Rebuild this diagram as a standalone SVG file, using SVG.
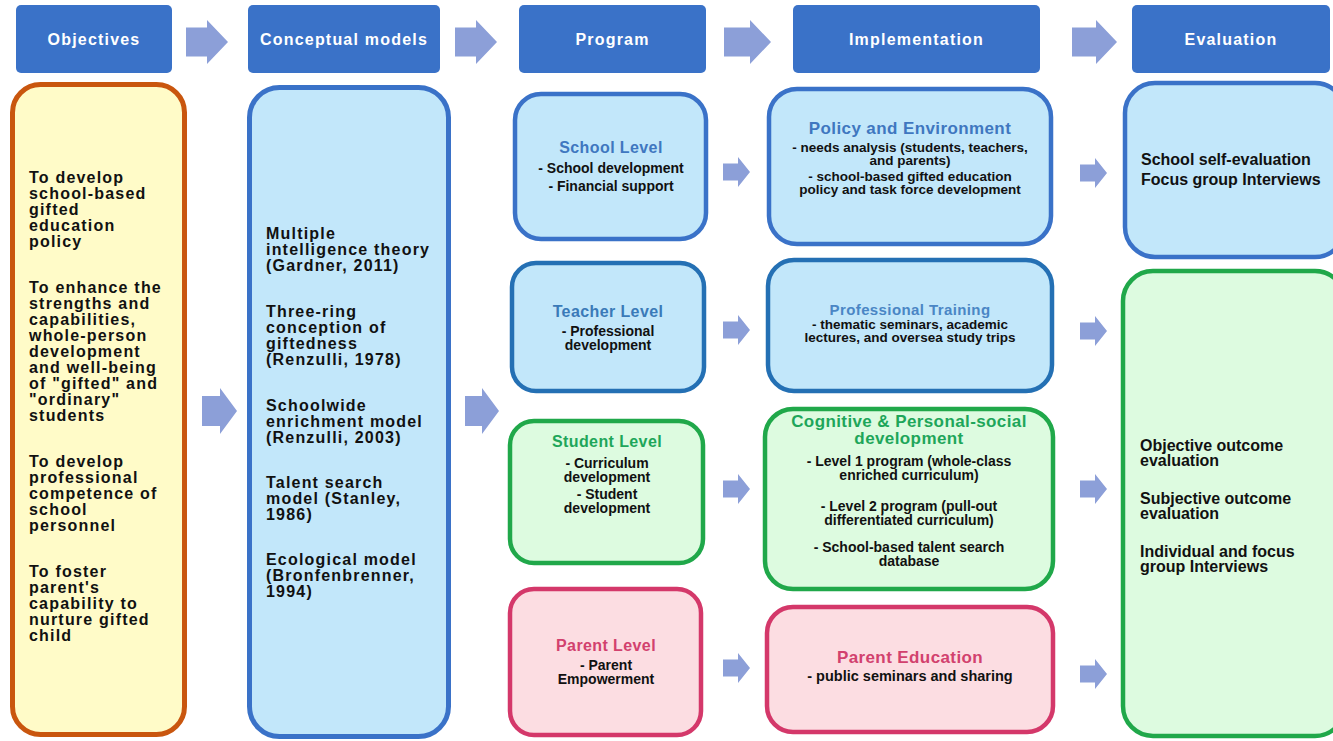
<svg xmlns="http://www.w3.org/2000/svg" xmlns:xlink="http://www.w3.org/1999/xlink" width="1333" height="741" viewBox="0 0 1333 741">
<style>
text{font-family:"Liberation Sans",Arial,sans-serif;font-weight:bold}
.hdr{fill:#3A72C8}
.ht{fill:#fff;font-size:16px;letter-spacing:1.2px;text-anchor:middle}
.arr{fill:#8C9FD8}
.body{font-size:16px;letter-spacing:1.2px;fill:#111}
.ttl{font-size:16px;letter-spacing:0.4px;text-anchor:middle}
.sm{font-size:14px;fill:#111;text-anchor:middle}
.blueB{fill:#C2E7FA;stroke:#3A72C8;stroke-width:4.5}
.tealB{fill:#C2E7FA;stroke:#2470B4;stroke-width:4.5}
.greenB{fill:#DDFBE0;stroke:#20A84A;stroke-width:4.5}
.redB{fill:#FCDDE2;stroke:#D4386A;stroke-width:4.5}
.ev{font-size:16px;fill:#111}
</style>
<defs>
<path id="sa" d="M0,-8.5 H15 V-15 L27,0 L15,15 V8.5 H0 Z"/>
</defs>

<g id="headers">
<g id="h-objectives"><rect class="hdr" x="16" y="5" width="156" height="68" rx="5"/><text class="ht" x="94" y="45">Objectives</text></g>
<g id="h-conceptual"><rect class="hdr" x="248" y="5" width="192" height="68" rx="5"/><text class="ht" x="344" y="45">Conceptual models</text></g>
<g id="h-program"><rect class="hdr" x="519" y="5" width="187" height="68" rx="5"/><text class="ht" x="612.5" y="45">Program</text></g>
<g id="h-implementation"><rect class="hdr" x="793" y="5" width="247" height="68" rx="5"/><text class="ht" x="916.5" y="45">Implementation</text></g>
<g id="h-evaluation"><rect class="hdr" x="1132" y="5" width="198" height="68" rx="5"/><text class="ht" x="1231" y="45">Evaluation</text></g>
</g>

<g id="connectors">
<path class="arr" d="M186,27.5 H207 V20 L228,42 L207,64 V56.5 H186 Z"/>
<path class="arr" d="M455,27.5 H476 V20 L497,42 L476,64 V56.5 H455 Z"/>
<path class="arr" d="M724,27.5 H750 V20 L771,42 L750,64 V56.5 H724 Z"/>
<path class="arr" d="M1072,27.5 H1096 V20 L1117,42 L1096,64 V56.5 H1072 Z"/>
<path class="arr" d="M202,396 H220 V388 L237,411 L220,434 V426 H202 Z"/>
<path class="arr" d="M465,396 H482 V388 L499,411 L482,434 V426 H465 Z"/>
<use class="arr" xlink:href="#sa" x="723" y="172"/>
<use class="arr" xlink:href="#sa" x="723" y="330"/>
<use class="arr" xlink:href="#sa" x="723" y="489"/>
<use class="arr" xlink:href="#sa" x="723" y="668"/>
<use class="arr" xlink:href="#sa" x="1080" y="173"/>
<use class="arr" xlink:href="#sa" x="1080" y="331"/>
<use class="arr" xlink:href="#sa" x="1080" y="489"/>
<use class="arr" xlink:href="#sa" x="1080" y="674"/>
</g>

<g id="objectives">
<rect x="12.5" y="84.5" width="172" height="650" rx="28" fill="#FFFBC8" stroke="#C9560E" stroke-width="5"/>
<text class="body" x="29" y="183">To develop</text>
<text class="body" x="29" y="199">school-based</text>
<text class="body" x="29" y="215">gifted</text>
<text class="body" x="29" y="231">education</text>
<text class="body" x="29" y="247">policy</text>
<text class="body" x="29" y="293">To enhance the</text>
<text class="body" x="29" y="309">strengths and</text>
<text class="body" x="29" y="325">capabilities,</text>
<text class="body" x="29" y="341">whole-person</text>
<text class="body" x="29" y="357">development</text>
<text class="body" x="29" y="373">and well-being</text>
<text class="body" x="29" y="389">of "gifted" and</text>
<text class="body" x="29" y="405">"ordinary"</text>
<text class="body" x="29" y="421">students</text>
<text class="body" x="29" y="467">To develop</text>
<text class="body" x="29" y="483">professional</text>
<text class="body" x="29" y="499">competence of</text>
<text class="body" x="29" y="515">school</text>
<text class="body" x="29" y="531">personnel</text>
<text class="body" x="29" y="577">To foster</text>
<text class="body" x="29" y="593">parent's</text>
<text class="body" x="29" y="609">capability to</text>
<text class="body" x="29" y="625">nurture gifted</text>
<text class="body" x="29" y="641">child</text>
</g>

<g id="conceptual">
<rect x="249.5" y="87.5" width="199" height="649" rx="30" fill="#C2E7FA" stroke="#3A72C8" stroke-width="5"/>
<text class="body" x="266" y="239">Multiple</text>
<text class="body" x="266" y="255">intelligence theory</text>
<text class="body" x="266" y="271">(Gardner, 2011)</text>
<text class="body" x="266" y="317">Three-ring</text>
<text class="body" x="266" y="333">conception of</text>
<text class="body" x="266" y="349">giftedness</text>
<text class="body" x="266" y="365">(Renzulli, 1978)</text>
<text class="body" x="266" y="411">Schoolwide</text>
<text class="body" x="266" y="427">enrichment model</text>
<text class="body" x="266" y="443">(Renzulli, 2003)</text>
<text class="body" x="266" y="488">Talent search</text>
<text class="body" x="266" y="504">model (Stanley,</text>
<text class="body" x="266" y="520">1986)</text>
<text class="body" x="266" y="565">Ecological model</text>
<text class="body" x="266" y="581">(Bronfenbrenner,</text>
<text class="body" x="266" y="597">1994)</text>
</g>

<g id="school-level">
<rect class="blueB" x="515" y="94" width="191" height="145" rx="26"/>
<text class="ttl" x="611" y="153" fill="#3F77C0">School Level</text>
<text class="sm" x="611" y="173">- School development</text>
<text class="sm" x="611" y="191">- Financial support</text>
</g>

<g id="teacher-level">
<rect class="tealB" x="512" y="263" width="192" height="128" rx="24"/>
<text class="ttl" x="608" y="317" fill="#3A7AB8">Teacher Level</text>
<text class="sm" x="608" y="336">- Professional</text>
<text class="sm" x="608" y="350">development</text>
</g>

<g id="student-level">
<rect class="greenB" x="510" y="421" width="193" height="142" rx="24"/>
<text class="ttl" x="607" y="447" fill="#1EA65A">Student Level</text>
<text class="sm" x="607" y="468">- Curriculum</text>
<text class="sm" x="607" y="482">development</text>
<text class="sm" x="607" y="499">- Student</text>
<text class="sm" x="607" y="513">development</text>
</g>

<g id="parent-level">
<rect class="redB" x="510" y="589" width="191" height="146" rx="24"/>
<text class="ttl" x="606" y="651" fill="#D2416E">Parent Level</text>
<text class="sm" x="606" y="670">- Parent</text>
<text class="sm" x="606" y="684">Empowerment</text>
</g>

<g id="policy-environment">
<rect class="blueB" x="769" y="89" width="282" height="155" rx="28"/>
<text class="ttl" x="910" y="134" fill="#3F77C0" style="font-size:17px">Policy and Environment</text>
<text class="sm" x="910" y="152" style="font-size:13.5px">- needs analysis (students, teachers,</text>
<text class="sm" x="910" y="165" style="font-size:13.5px">and parents)</text>
<text class="sm" x="910" y="181" style="font-size:13.5px">- school-based gifted education</text>
<text class="sm" x="910" y="194" style="font-size:13.5px">policy and task force development</text>
</g>

<g id="professional-training">
<rect class="tealB" x="768" y="260" width="284" height="131" rx="26"/>
<text class="ttl" x="910" y="315" fill="#4A86C5" style="font-size:15px">Professional Training</text>
<text class="sm" x="910" y="329" style="font-size:13.5px">- thematic seminars, academic</text>
<text class="sm" x="910" y="342" style="font-size:13.5px">lectures, and oversea study trips</text>
</g>

<g id="cognitive-development">
<rect class="greenB" x="765" y="409" width="288" height="180" rx="28"/>
<text class="ttl" x="909" y="427" fill="#1EA65A" style="font-size:17px">Cognitive &amp; Personal-social</text>
<text class="ttl" x="909" y="444" fill="#1EA65A" style="font-size:17px">development</text>
<text class="sm" x="909" y="466">- Level 1 program (whole-class</text>
<text class="sm" x="909" y="480">enriched curriculum)</text>
<text class="sm" x="909" y="511">- Level 2 program (pull-out</text>
<text class="sm" x="909" y="525">differentiated curriculum)</text>
<text class="sm" x="909" y="552">- School-based talent search</text>
<text class="sm" x="909" y="566">database</text>
</g>

<g id="parent-education">
<rect class="redB" x="767" y="607" width="286" height="125" rx="26"/>
<text class="ttl" x="910" y="663" fill="#D2416E" style="font-size:17px">Parent Education</text>
<text class="sm" x="910" y="681" style="font-size:14.5px">- public seminars and sharing</text>
</g>

<g id="eval-school">
<rect class="blueB" x="1125" y="83" width="220" height="174" rx="30"/>
<text class="ev" x="1141" y="165">School self-evaluation</text>
<text class="ev" x="1141" y="185">Focus group Interviews</text>
</g>

<g id="eval-outcome">
<rect class="greenB" x="1123" y="271" width="222" height="465" rx="30"/>
<text class="ev" x="1140" y="451">Objective outcome</text>
<text class="ev" x="1140" y="466">evaluation</text>
<text class="ev" x="1140" y="504">Subjective outcome</text>
<text class="ev" x="1140" y="519">evaluation</text>
<text class="ev" x="1140" y="557">Individual and focus</text>
<text class="ev" x="1140" y="572">group Interviews</text>
</g>
</svg>
